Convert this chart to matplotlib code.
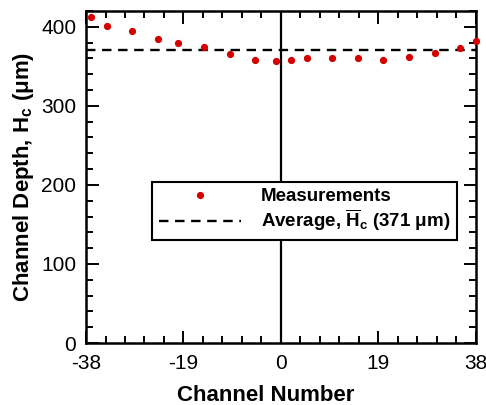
import matplotlib
matplotlib.use("Agg")
import matplotlib.pyplot as plt
from matplotlib.ticker import MultipleLocator, FixedLocator

plt.rcParams['font.family'] = ['Liberation Sans', 'DejaVu Sans']
plt.rcParams['mathtext.fontset'] = 'custom'
plt.rcParams['mathtext.rm'] = 'Liberation Sans'
plt.rcParams['mathtext.bf'] = 'Liberation Sans:bold'
plt.rcParams['mathtext.it'] = 'Liberation Sans:italic'

channel = [-37, -34, -29, -24, -20, -15, -10, -5, -1, 2, 5, 10, 15, 20, 25, 30, 35, 38]
depth = [412, 401, 394, 384, 380, 375, 365, 358.5, 356.5, 358.5, 360, 360,
         361, 358, 362, 366.5, 373, 382.5]
average_depth = 371
x_ticks = [-38, -19, 0, 19, 38]
y_ticks = [0, 100, 200, 300, 400]

fig = plt.figure(figsize=(4.86, 4.05), dpi=100)
ax = fig.add_axes([0.177, 0.153, 0.802, 0.820])

ax.axvline(0, color='black', lw=1.6, zorder=1)
ax.plot(channel, depth, 'o', color='#d40000', markersize=5.2,
        markeredgewidth=0, label='Measurements', zorder=3, clip_on=False)
ax.axhline(average_depth, color='black', lw=1.7, ls=(0, (4, 2.8)),
           label=r'Average, $\mathbf{\overline{H}_c}$ (371 $\mathbf{\mu}$m)', zorder=2)

ax.set_xlim(-38, 38)
ax.set_ylim(0, 420)
ax.xaxis.set_major_locator(FixedLocator(x_ticks))
ax.xaxis.set_minor_locator(MultipleLocator(3.8))
ax.yaxis.set_major_locator(FixedLocator(y_ticks))
ax.yaxis.set_minor_locator(MultipleLocator(20))
ax.set_xticklabels([str(v) for v in x_ticks])
ax.tick_params(which='both', direction='in', top=True, right=True, width=1.4,
               labelsize=15)
ax.tick_params(axis='y', pad=7)
ax.tick_params(axis='x', pad=8)
ax.tick_params(which='major', length=9)
ax.tick_params(which='minor', length=5)
for s in ax.spines.values():
    s.set_linewidth(1.8)

ax.set_xlabel('Channel Number', fontsize=16, fontweight='bold')
ax.xaxis.set_label_coords(0.46, -0.125)
ax.xaxis.label.set_va('top')
ax.set_ylabel(r'Channel Depth, H$_\mathbf{c}$ ($\mathbf{\mu}$m)', fontsize=16,
              fontweight='bold', labelpad=4)

leg = ax.legend(loc='center', bbox_to_anchor=(0.560, 0.398),
                prop={'weight': 'bold', 'size': 13.5}, frameon=True, fancybox=False,
                edgecolor='black', handlelength=4.4, handletextpad=1.05,
                borderpad=0.35, labelspacing=0.12, borderaxespad=0)
leg.get_frame().set_linewidth(1.5)
leg.get_frame().set_alpha(1)

fig.savefig('out.png', dpi=100)
